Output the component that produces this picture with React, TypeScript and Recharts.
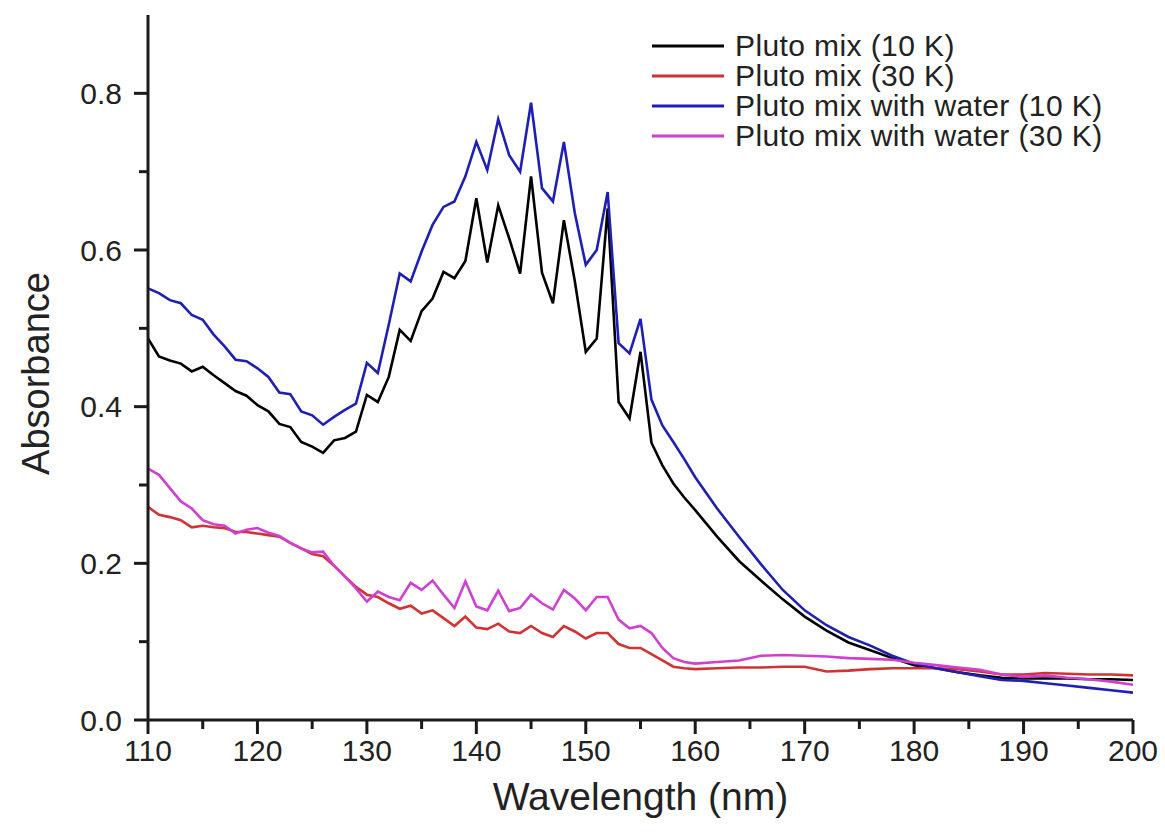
import React from 'react';
import { LineChart, Line, XAxis, YAxis, Legend } from 'recharts';

const wavelengths = [
  110, 111, 112, 113, 114, 115, 116, 117, 118, 119,
  120, 121, 122, 123, 124, 125, 126, 127, 128, 129,
  130, 131, 132, 133, 134, 135, 136, 137, 138, 139,
  140, 141, 142, 143, 144, 145, 146, 147, 148, 149,
  150, 151, 152, 153, 154, 155, 156, 157, 158, 159,
  160, 162, 164, 166, 168, 170, 172, 174, 176, 178,
  180, 182, 184, 186, 188, 190, 192, 194, 196, 198, 200,
];

const plutoMix10K = [
  0.487, 0.464, 0.459, 0.455, 0.445, 0.451, 0.44, 0.43, 0.42, 0.414,
  0.402, 0.394, 0.378, 0.374, 0.355, 0.349, 0.341, 0.357, 0.36, 0.368,
  0.415, 0.406, 0.438, 0.498, 0.484, 0.522, 0.538, 0.572, 0.564, 0.586,
  0.666, 0.584, 0.657, 0.615, 0.57, 0.694, 0.571, 0.532, 0.638, 0.56,
  0.47, 0.487, 0.653, 0.406, 0.385, 0.47, 0.354, 0.325, 0.302, 0.284,
  0.268, 0.234, 0.203, 0.178, 0.154, 0.132, 0.114, 0.099, 0.089, 0.079,
  0.07, 0.066, 0.061, 0.057, 0.054, 0.053, 0.053, 0.053, 0.052, 0.052, 0.051,
];

const plutoMix30K = [
  0.272, 0.262, 0.259, 0.255, 0.246, 0.248, 0.246, 0.245, 0.24, 0.24,
  0.238, 0.236, 0.234, 0.226, 0.219, 0.212, 0.209, 0.197, 0.183, 0.17,
  0.16, 0.157, 0.149, 0.142, 0.146, 0.136, 0.14, 0.13, 0.12, 0.132,
  0.118, 0.116, 0.123, 0.113, 0.111, 0.12, 0.111, 0.106, 0.12, 0.113,
  0.104, 0.111, 0.111, 0.097, 0.092, 0.092, 0.084, 0.076, 0.068, 0.066,
  0.065, 0.066, 0.067, 0.067, 0.068, 0.068, 0.062, 0.063, 0.065, 0.066,
  0.066, 0.066, 0.065, 0.062, 0.058, 0.058, 0.06, 0.059, 0.058, 0.058, 0.057,
];

const plutoWater10K = [
  0.551, 0.545, 0.536, 0.532, 0.517, 0.511, 0.492, 0.477, 0.46, 0.458,
  0.449, 0.438, 0.418, 0.416, 0.394, 0.389, 0.377, 0.387, 0.396, 0.404,
  0.456, 0.443, 0.505, 0.57, 0.56, 0.598, 0.632, 0.655, 0.662, 0.694,
  0.738, 0.702, 0.767, 0.721, 0.7, 0.788, 0.679, 0.662, 0.738, 0.647,
  0.581, 0.6, 0.674, 0.481, 0.468, 0.512, 0.409, 0.376, 0.355, 0.333,
  0.31, 0.27, 0.234, 0.199, 0.166, 0.14, 0.121, 0.106, 0.095, 0.082,
  0.072, 0.066, 0.061, 0.056, 0.051, 0.05, 0.047, 0.044, 0.041, 0.038, 0.035,
];

const plutoWater30K = [
  0.321, 0.313, 0.296, 0.279, 0.27, 0.255, 0.25, 0.248, 0.238, 0.243,
  0.245, 0.239, 0.235, 0.226, 0.219, 0.214, 0.215, 0.197, 0.183, 0.168,
  0.151, 0.164, 0.157, 0.153, 0.175, 0.166, 0.178, 0.16, 0.143, 0.177,
  0.145, 0.14, 0.165, 0.139, 0.143, 0.16, 0.149, 0.141, 0.166, 0.155,
  0.14, 0.157, 0.157, 0.128, 0.117, 0.12, 0.111, 0.092, 0.079, 0.074,
  0.072, 0.074, 0.076, 0.082, 0.083, 0.082, 0.081, 0.079, 0.078, 0.077,
  0.073, 0.07, 0.067, 0.064, 0.058, 0.055, 0.057, 0.054, 0.052, 0.049, 0.045,
];

const xTicks = [110, 115, 120, 125, 130, 135, 140, 145, 150, 155, 160, 165, 170, 175, 180, 185, 190, 195, 200];
const xLabelTicks = [110, 120, 130, 140, 150, 160, 170, 180, 190, 200];
const yTicks = [0, 0.1, 0.2, 0.3, 0.4, 0.5, 0.6, 0.7, 0.8];
const yLabelTicks = [0, 0.2, 0.4, 0.6, 0.8];

const series = [
  { key: 'p10', name: 'Pluto mix (10 K)', color: '#000000', values: plutoMix10K },
  { key: 'p30', name: 'Pluto mix (30 K)', color: '#d23232', values: plutoMix30K },
  { key: 'w10', name: 'Pluto mix with water (10 K)', color: '#1f1fb4', values: plutoWater10K },
  { key: 'w30', name: 'Pluto mix with water (30 K)', color: '#d040d0', values: plutoWater30K },
];

const data = wavelengths.map((wl, i) => {
  const row: Record<string, number> = { wl };
  series.forEach((s) => {
    row[s.key] = s.values[i];
  });
  return row;
});

const FONT = '"Liberation Sans", Arial, sans-serif';
const AXIS_COLOR = '#1a1a1a';

const XTick = (props: any) => {
  const { x, y, payload } = props;
  const v = payload.value;
  const major = xLabelTicks.some((t) => Math.abs(t - v) < 1e-6);
  return (
    <g>
      <line x1={x} y1={y} x2={x} y2={y + (major ? 14 : 9)} stroke={AXIS_COLOR} strokeWidth={3} />
      {major && (
        <text x={x} y={y + 41} textAnchor="middle" fontSize={30} fontFamily={FONT} fill="#222">
          {v}
        </text>
      )}
    </g>
  );
};

const YTick = (props: any) => {
  const { x, y, payload } = props;
  const v = payload.value;
  const major = yLabelTicks.some((t) => Math.abs(t - v) < 1e-6);
  return (
    <g>
      <line x1={x} y1={y} x2={x - (major ? 14 : 9)} y2={y} stroke={AXIS_COLOR} strokeWidth={3} />
      {major && (
        <text x={x - 26} y={y} textAnchor="end" dominantBaseline="central" fontSize={30} fontFamily={FONT} fill="#222">
          {v.toFixed(1)}
        </text>
      )}
    </g>
  );
};

const LegendContent = () => (
  <div style={{ fontFamily: FONT }}>
    {series.map((s) => (
      <div key={s.key} style={{ display: 'flex', alignItems: 'center', height: 30 }}>
        <svg width={72} height={6} style={{ display: 'block' }}>
          <line x1={0} y1={3} x2={72} y2={3} stroke={s.color} strokeWidth={3} />
        </svg>
        <span
          style={{
            marginLeft: 11,
            fontSize: 30,
            letterSpacing: 0.4,
            color: '#222',
            lineHeight: '30px',
            whiteSpace: 'nowrap',
          }}
        >
          {s.name}
        </span>
      </div>
    ))}
  </div>
);

export default function App() {
  return (
    <div style={{ position: 'absolute', left: 0, top: 0, width: 1165, height: 840, background: '#fff' }}>
      <LineChart
        width={1165}
        height={840}
        data={data}
        margin={{ top: 15, right: 32, bottom: 0, left: 0 }}
      >
        <XAxis
          dataKey="wl"
          type="number"
          domain={[110, 200]}
          ticks={xTicks}
          interval={0}
          height={120}
          axisLine={{ stroke: AXIS_COLOR, strokeWidth: 3 }}
          tickLine={false}
          tickSize={0}
          tickMargin={0}
          tick={<XTick />}
          allowDataOverflow
          label={{
            content: (p: any) => {
              const vb = p.viewBox;
              return (
                <text x={vb.x + vb.width / 2} y={vb.y + 90} textAnchor="middle" fontSize={39} fontFamily={FONT} fill="#222">
                  Wavelength (nm)
                </text>
              );
            },
          }}
        />
        <XAxis
          xAxisId="top"
          orientation="top"
          dataKey="wl"
          type="number"
          domain={[110, 200]}
          height={0}
          tick={false}
          tickLine={false}
          axisLine={{ stroke: AXIS_COLOR, strokeWidth: 3 }}
        />
        <YAxis
          type="number"
          domain={[0, 0.9]}
          ticks={yTicks}
          interval={0}
          width={148}
          axisLine={{ stroke: AXIS_COLOR, strokeWidth: 3 }}
          tickLine={false}
          tickSize={0}
          tickMargin={0}
          tick={<YTick />}
          allowDataOverflow
          label={{
            content: (p: any) => {
              const vb = p.viewBox;
              const cx = vb.x + 36;
              const cy = vb.y + vb.height / 2 + 6;
              return (
                <text
                  x={cx}
                  y={cy}
                  transform={`rotate(-90 ${cx} ${cy})`}
                  textAnchor="middle"
                  dominantBaseline="central"
                  fontSize={38}
                  fontFamily={FONT}
                  fill="#222"
                >
                  Absorbance
                </text>
              );
            },
          }}
        />
        <YAxis
          yAxisId="right"
          orientation="right"
          type="number"
          domain={[0, 0.9]}
          width={0}
          tick={false}
          tickLine={false}
          axisLine={{ stroke: AXIS_COLOR, strokeWidth: 3 }}
        />
        <Legend
          layout="horizontal"
          verticalAlign="middle"
          align="center"
          wrapperStyle={{ top: 31, left: 652, width: 480, height: 122 }}
          content={<LegendContent />}
        />
        {series.map((s) => (
          <Line
            key={s.key}
            dataKey={s.key}
            name={s.name}
            type="linear"
            stroke={s.color}
            strokeWidth={2.6}
            dot={false}
            activeDot={false}
            isAnimationActive={false}
          />
        ))}
      </LineChart>
    </div>
  );
}
